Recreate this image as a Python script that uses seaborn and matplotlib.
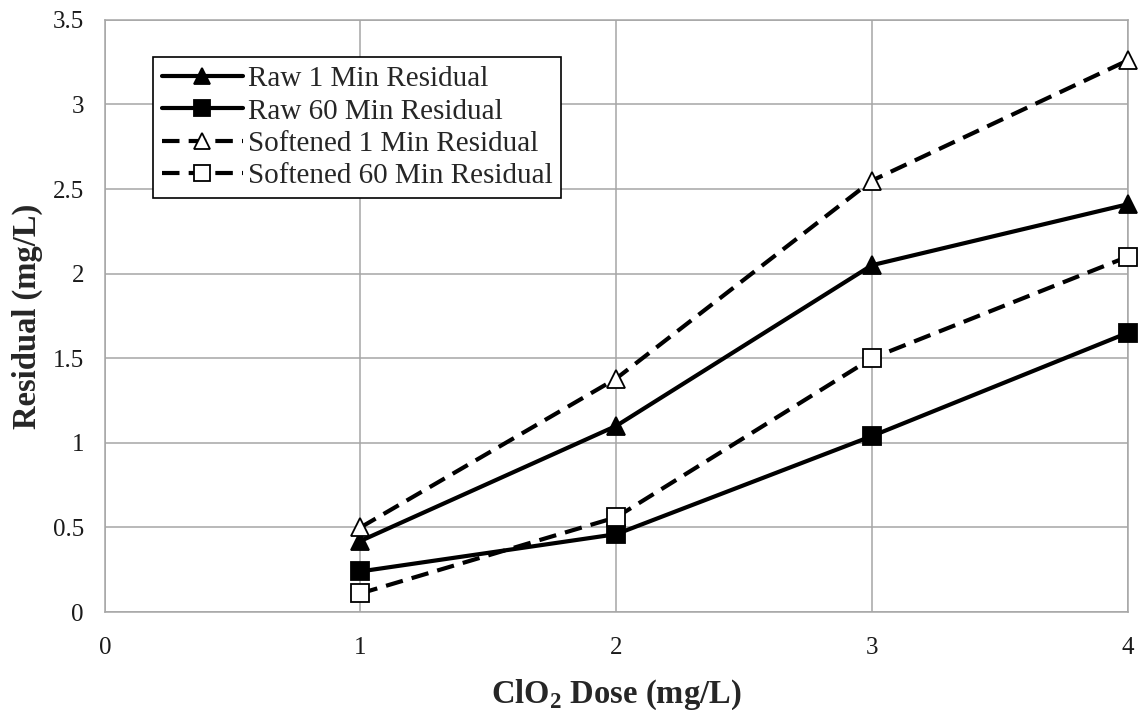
import numpy as np
import pandas as pd
import matplotlib
matplotlib.use('Agg')
import matplotlib.pyplot as plt
import seaborn as sns

# datos
dose = [1, 2, 3, 4]
raw_1min = [0.42, 1.10, 2.05, 2.41]
raw_60min = [0.24, 0.46, 1.04, 1.65]
soft_1min = [0.50, 1.38, 2.55, 3.26]
soft_60min = [0.11, 0.56, 1.50, 2.10]

series = ['Raw 1 Min Residual', 'Raw 60 Min Residual',
          'Softened 1 Min Residual', 'Softened 60 Min Residual']
values = [raw_1min, raw_60min, soft_1min, soft_60min]

df = pd.DataFrame({
    'dose': dose * 4,
    'residual': sum(values, []),
    'serie': np.repeat(series, len(dose)),
})

sns.set_theme(style='whitegrid')
plt.rcParams['font.family'] = ['Liberation Serif', 'DejaVu Serif']
plt.rcParams['mathtext.fontset'] = 'custom'
plt.rcParams['mathtext.rm'] = 'Liberation Serif'
plt.rcParams['mathtext.bf'] = 'Liberation Serif:bold'

GRID = '#a6a6a6'

fig, ax = plt.subplots(figsize=(11.39, 7.10), dpi=100)
fig.subplots_adjust(left=0.092, right=0.99, top=0.972, bottom=0.138)

dash = (0, (4.2, 2.2))
styles = {
    'Raw 1 Min Residual': dict(ls='-', marker='^', mfc='black'),
    'Raw 60 Min Residual': dict(ls='-', marker='s', mfc='black'),
    'Softened 1 Min Residual': dict(ls=dash, marker='^', mfc='white'),
    'Softened 60 Min Residual': dict(ls=dash, marker='s', mfc='white'),
}

for s in series:
    st = styles[s]
    sub = df[df['serie'] == s]
    sns.lineplot(data=sub, x='dose', y='residual', ax=ax, color='black',
                 linewidth=3.0, linestyle=st['ls'], marker=st['marker'],
                 markersize=13, markerfacecolor=st['mfc'],
                 markeredgecolor='black', markeredgewidth=1.3, label=s,
                 clip_on=False, zorder=5)

ax.set_xlim(0, 4)
ax.set_ylim(0, 3.5)
ax.set_xticks([0, 1, 2, 3, 4])
ax.set_yticks(np.arange(0, 3.51, 0.5))
ax.set_yticklabels(['0', '0.5', '1', '1.5', '2', '2.5', '3', '3.5'])
ax.tick_params(labelsize=18, colors='#1a1a1a', length=0)
ax.tick_params(axis='x', pad=18)
ax.tick_params(axis='y', pad=15)
ax.grid(True, color=GRID, linewidth=1.1)
for sp in ax.spines.values():
    sp.set_color(GRID)
    sp.set_linewidth(1.1)

ax.set_xlabel(r'ClO$_\mathbf{2}$ Dose (mg/L)', fontsize=23.5, fontweight='bold')
ax.set_ylabel('Residual (mg/L)', fontsize=23.5, fontweight='bold')
ax.xaxis.set_label_coords(0.5, -0.11)
ax.yaxis.set_label_coords(-0.06, 0.5)

leg = ax.legend(loc='upper left', bbox_to_anchor=(0.047, 0.937), fontsize=21,
                frameon=True, fancybox=False, framealpha=1, edgecolor='black',
                handlelength=2.8, handletextpad=0.15, borderpad=0.3,
                labelspacing=0.2, borderaxespad=0, markerscale=0.85)
leg.get_frame().set_linewidth(1.2)

fig.savefig('out.png', dpi=100, facecolor='white')
